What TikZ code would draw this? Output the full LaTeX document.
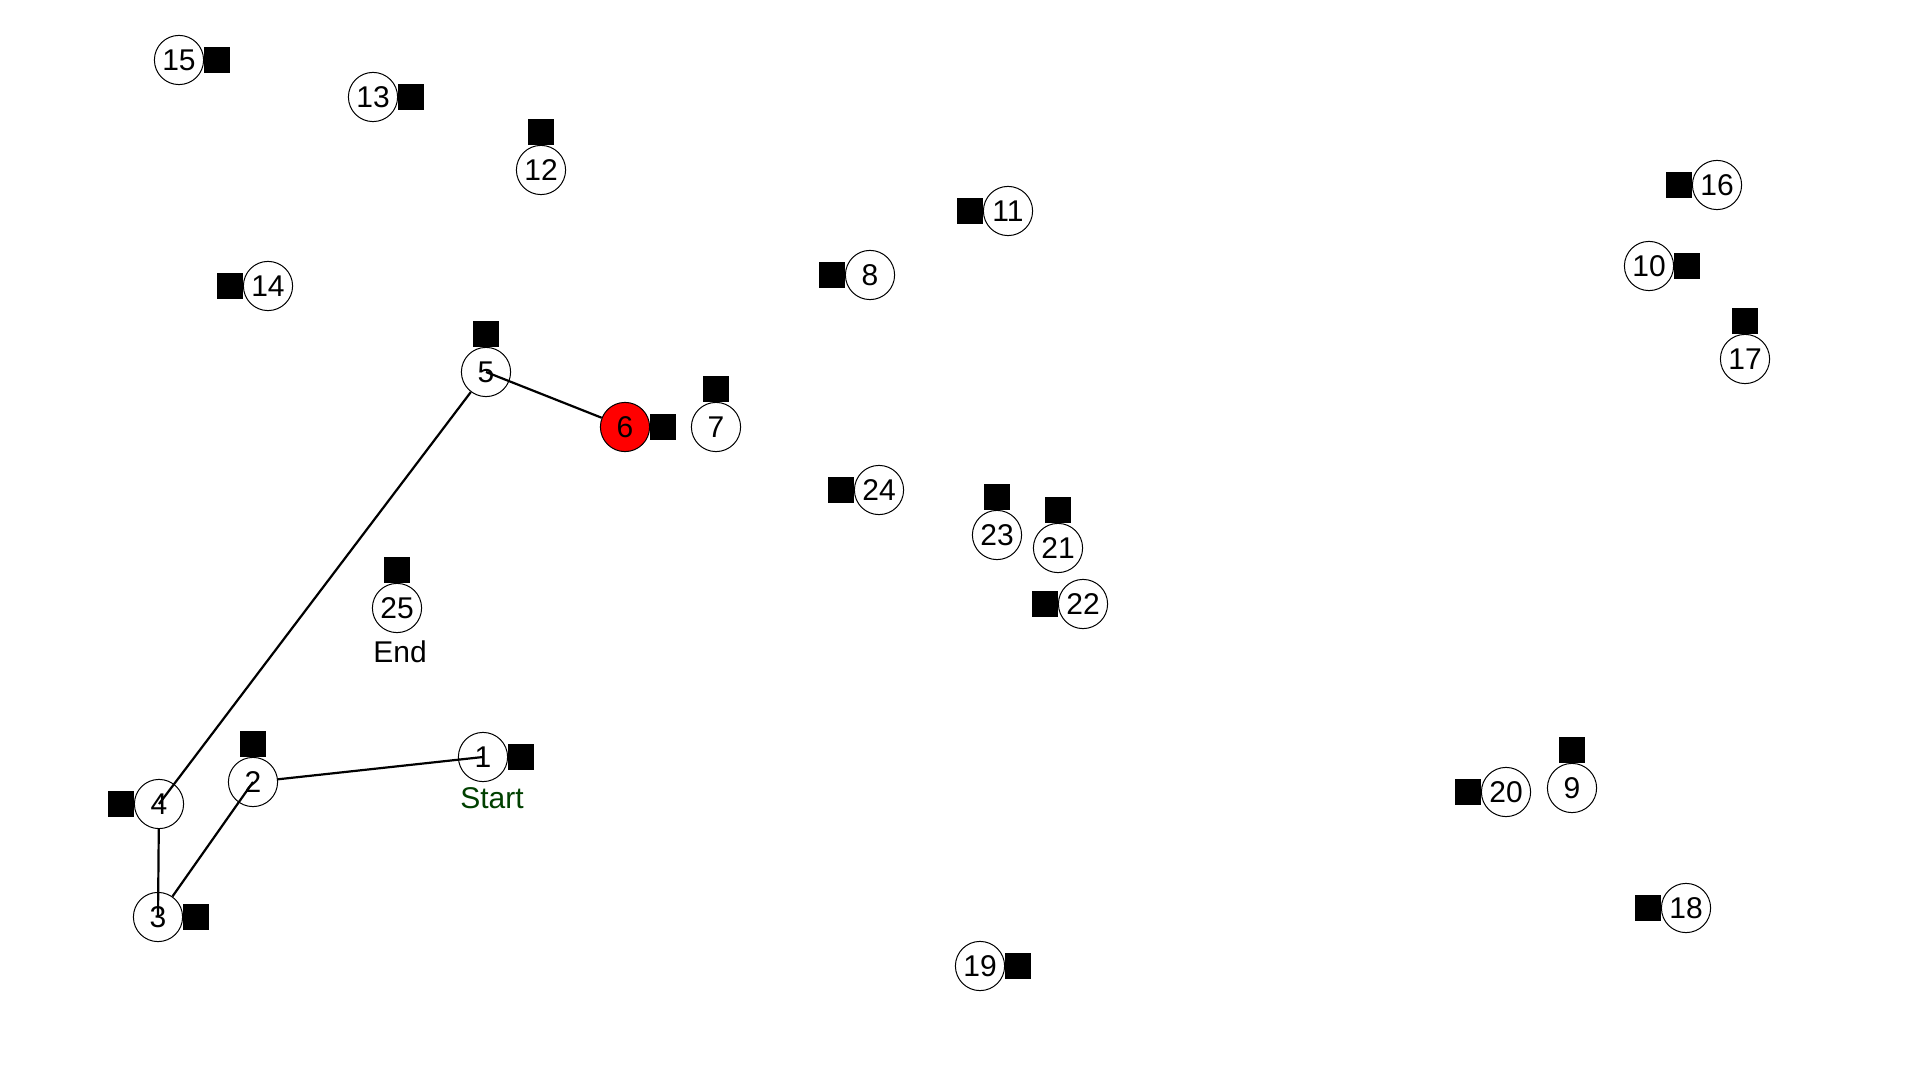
\documentclass[tikz,border=0pt]{standalone}
\usepackage{fontspec}
\setmainfont{Liberation Sans}
\usepackage{tikz}
\usepackage{color}

\definecolor{startgreen}{RGB}{0,64,0}

\begin{document}
\begin{tikzpicture}[x=0.5pt,y=0.5pt,yscale=-1,xscale=1,
  site/.style={circle,draw=black,line width=0.5pt,fill=white,minimum size=24.6pt,inner sep=0pt,font=\fontsize{15pt}{18pt}\selectfont},
  box/.style={fill=black,minimum size=13pt,inner sep=0pt},
  tag/.style={inner sep=0pt,font=\fontsize{15pt}{18pt}\selectfont},
  route/.style={line width=1.1pt}]
\useasboundingbox (0,0) rectangle (1920,1080);
% Squares
\node [box] (s1) at (521,757) {};
\node [box] (s2) at (253,744) {};
\node [box] (s3) at (196,917) {};
\node [box] (s4) at (121,804) {};
\node [box] (s5) at (486,334) {};
\node [box] (s6) at (663,427) {};
\node [box] (s7) at (716,389) {};
\node [box] (s8) at (832,275) {};
\node [box] (s9) at (1572,750) {};
\node [box] (s10) at (1687,266) {};
\node [box] (s11) at (970,211) {};
\node [box] (s12) at (541,132) {};
\node [box] (s13) at (411,97) {};
\node [box] (s14) at (230,286) {};
\node [box] (s15) at (217,60) {};
\node [box] (s16) at (1679,185) {};
\node [box] (s17) at (1745,321) {};
\node [box] (s18) at (1648,908) {};
\node [box] (s19) at (1018,966) {};
\node [box] (s20) at (1468,792) {};
\node [box] (s21) at (1058,510) {};
\node [box] (s22) at (1045,604) {};
\node [box] (s23) at (997,497) {};
\node [box] (s24) at (841,490) {};
\node [box] (s25) at (397,570) {};
% Sites
\node [site] (n1) at (483,757) {1};
\node [site] (n2) at (253,782) {2};
\node [site] (n3) at (158,917) {3};
\node [site] (n4) at (159,804) {4};
\node [site] (n5) at (486,372) {5};
\node [site,fill=red] (n6) at (625,427) {6};
\node [site] (n7) at (716,427) {7};
\node [site] (n8) at (870,275) {8};
\node [site] (n9) at (1572,788) {9};
\node [site] (n10) at (1649,266) {10};
\node [site] (n11) at (1008,211) {11};
\node [site] (n12) at (541,170) {12};
\node [site] (n13) at (373,97) {13};
\node [site] (n14) at (268,286) {14};
\node [site] (n15) at (179,60) {15};
\node [site] (n16) at (1717,185) {16};
\node [site] (n17) at (1745,359) {17};
\node [site] (n18) at (1686,908) {18};
\node [site] (n19) at (980,966) {19};
\node [site] (n20) at (1506,792) {20};
\node [site] (n21) at (1058,548) {21};
\node [site] (n22) at (1083,604) {22};
\node [site] (n23) at (997,535) {23};
\node [site] (n24) at (879,490) {24};
\node [site] (n25) at (397,608) {25};
% Text Node
\node [tag,text=startgreen] (start) at (492,798) {Start};
% Text Node
\node [tag] (end) at (400,652) {End};
% Route
\draw [route] (n1.center) -- (n2);
\draw [route] (n2.center) -- (n3);
\draw [route] (n3.center) -- (n4);
\draw [route] (n4.center) -- (n5);
\draw [route] (n5.center) -- (n6);
\end{tikzpicture}
\end{document}
